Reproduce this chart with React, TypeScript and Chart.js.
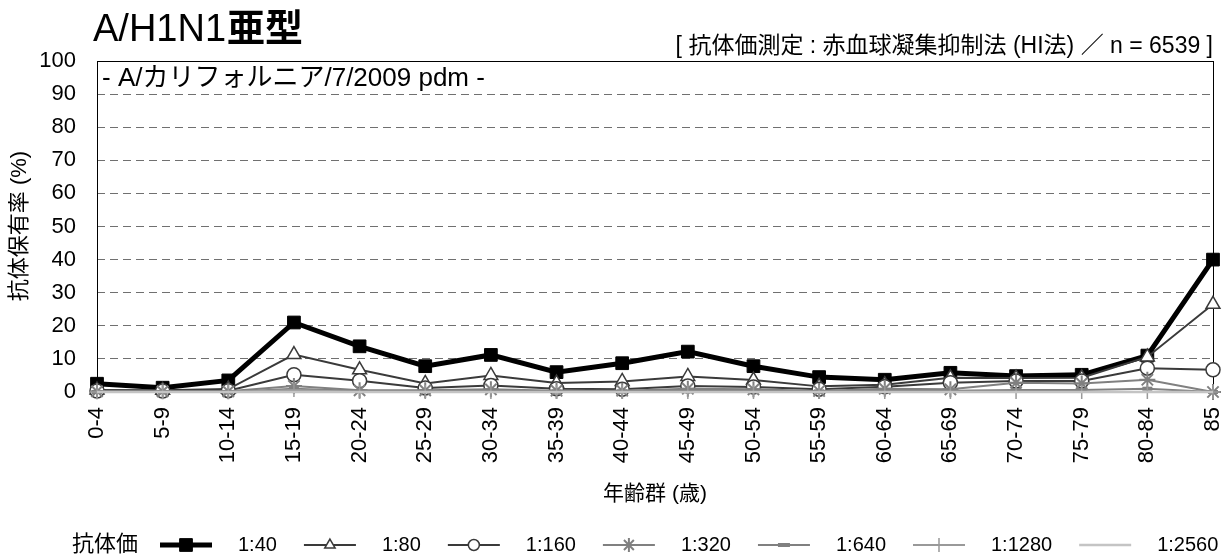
import React, { useEffect, useRef } from 'react';
import { Chart, registerables } from 'chart.js';
import { drawPoint } from 'chart.js/helpers';

Chart.register(...registerables);

const categories = ['0-4', '5-9', '10-14', '15-19', '20-24', '25-29', '30-34', '35-39', '40-44', '45-49', '50-54', '55-59', '60-64', '65-69', '70-74', '75-79', '80-84', '85'];
const seriesLabels = ['1:40', '1:80', '1:160', '1:320', '1:640', '1:1280', '1:2560'];
const titer40 = [2.5, 1.3, 3.5, 21.0, 13.8, 7.8, 11.2, 6.0, 8.7, 12.2, 7.8, 4.5, 3.7, 5.8, 4.8, 5.2, 11.0, 40.0];
const titer80 = [0.6, 0.5, 0.9, 11.3, 6.7, 2.6, 5.0, 2.7, 3.2, 4.7, 3.6, 1.7, 2.2, 4.3, 4.2, 4.3, 10.6, 26.5];
const titer160 = [0.3, 0.3, 0.4, 5.2, 3.4, 1.2, 2.0, 1.0, 0.8, 1.8, 1.5, 0.8, 1.6, 2.8, 3.3, 3.3, 7.2, 6.7];
const titer320 = [0.2, 0.2, 0.2, 1.8, 0.5, 0.5, 0.8, 0.4, 0.4, 1.0, 0.8, 0.3, 1.0, 0.8, 2.8, 2.6, 3.7, 0];
const titer640 = [0, 0, 0, 1.0, 0.3, 0.3, 0.4, 0.2, 0.2, 0.4, 0.4, 0.2, 0.5, 0.4, 0.6, 0.6, 1.0, 0];
const titer1280 = [0, 0, 0, 0.6, 0, 0, 0, 0, 0, 0, 0, 0, 0, 0, 0, 0, 0, 0];
const titer2560 = [0, 0, 0, 0, 0, 0, 0, 0, 0, 0, 0, 0, 0, 0, 0, 0, 0, 0];
const yTicks = [0, 10, 20, 30, 40, 50, 60, 70, 80, 90, 100];

const titleMain = 'A/H1N1';
const titleBold = '亜型';
const subtitle = '[ 抗体価測定 : 赤血球凝集抑制法 (HI法) ／ n = 6539 ]';
const annotation = '- A/カリフォルニア/7/2009 pdm -';
const yTitle = '抗体保有率 (%)';
const xTitle = '年齢群 (歳)';
const legendTitle = '抗体価';

const FONT = "'Liberation Sans', Arial, 'Noto Sans CJK JP', sans-serif";

const styles = [
  { color: '#000000', width: 5, point: 'rect', radius: 9, fill: '#000000', pbw: 1, lr: 9, lw: 5 },
  { color: '#3a3a3a', width: 2, point: 'triangle', radius: 8, fill: '#ffffff', pbw: 1.5, lr: 6, lw: 2 },
  { color: '#3a3a3a', width: 2, point: 'circle', radius: 7, fill: '#ffffff', pbw: 1.5, lr: 5.5, lw: 2 },
  { color: '#808080', width: 2, point: 'star', radius: 8, fill: '#808080', pbw: 2, lr: 7, lw: 2 },
  { color: '#808080', width: 2, point: 'line', radius: 5, fill: '#808080', pbw: 4, lr: 6, lw: 2 },
  { color: '#999999', width: 2, point: 'cross', radius: 7, fill: '#999999', pbw: 1.5, lr: 7, lw: 2 },
  { color: '#c4c4c4', width: 2.5, point: false, radius: 0, fill: '#c4c4c4', pbw: 0, lr: 0, lw: 2.5 },
];
const seriesData = [titer40, titer80, titer160, titer320, titer640, titer1280, titer2560];

const decorPlugin = {
  id: 'decor',
  beforeDatasetsDraw(chart: any) {
    const { ctx, chartArea: a } = chart;
    ctx.save();
    ctx.strokeStyle = '#000';
    ctx.lineWidth = 1;
    ctx.strokeRect(Math.round(a.left) + 0.5, Math.round(a.top) + 0.5, Math.round(a.right - a.left), Math.round(a.bottom - a.top));
    ctx.restore();
  },
  afterDraw(chart: any) {
    const { ctx, chartArea: a } = chart;
    ctx.save();
    ctx.fillStyle = '#000';
    // Title
    ctx.textBaseline = 'alphabetic';
    ctx.textAlign = 'left';
    ctx.font = `38px ${FONT}`;
    ctx.fillText(titleMain, 93, 41);
    const w = ctx.measureText(titleMain).width;
    ctx.font = `bold 38px ${FONT}`;
    ctx.fillText(titleBold, 93 + w + 1, 41);
    // Subtitle
    ctx.font = `23px ${FONT}`;
    ctx.textAlign = 'right';
    ctx.textBaseline = 'middle';
    ctx.fillText(subtitle, a.right, 47);
    // Annotation
    ctx.textAlign = 'left';
    ctx.font = `26px ${FONT}`;
    ctx.fillText(annotation, a.left + 5, 79);
    // Axis titles
    ctx.font = `21px ${FONT}`;
    ctx.textAlign = 'center';
    ctx.fillText(xTitle, (a.left + a.right) / 2, 494);
    ctx.save();
    ctx.translate(20, 226);
    ctx.rotate(-Math.PI / 2);
    ctx.font = `22px ${FONT}`;
    ctx.fillText(yTitle, 0, 0);
    ctx.restore();
    // Legend
    const ly = 545;
    ctx.textAlign = 'left';
    ctx.font = `22px ${FONT}`;
    ctx.fillText(legendTitle, 72, ly);
    ctx.font = `20px ${FONT}`;
    let x = 160;
    chart.data.datasets.forEach((ds: any, i: number) => {
      const s = styles[i];
      ctx.save();
      ctx.strokeStyle = s.color;
      ctx.lineWidth = s.lw;
      ctx.beginPath();
      ctx.moveTo(x, ly);
      ctx.lineTo(x + 52, ly);
      ctx.stroke();
      if (s.point) {
        ctx.fillStyle = s.fill;
        ctx.strokeStyle = s.color;
        ctx.lineWidth = s.pbw;
        drawPoint(ctx, { pointStyle: s.point, radius: s.lr, rotation: 0, borderWidth: s.pbw }, x + 26, ly);
      }
      ctx.restore();
      ctx.fillStyle = '#000';
      ctx.fillText(ds.label, x + 78, ly);
      x += 78 + ctx.measureText(ds.label).width + 27;
    });
    ctx.restore();
  },
};

export default function App() {
  const ref = useRef<HTMLCanvasElement>(null);
  useEffect(() => {
    if (!ref.current) return;
    const chart = new Chart(ref.current, {
      type: 'line',
      data: {
        labels: categories,
        datasets: seriesLabels.map((label, i) => {
          const s = styles[i];
          return {
            label,
            data: seriesData[i],
            order: seriesLabels.length - i,
            borderColor: s.color,
            borderWidth: s.width,
            backgroundColor: s.fill,
            pointStyle: s.point as any,
            pointRadius: s.radius,
            pointHoverRadius: s.radius,
            pointBackgroundColor: s.fill,
            pointBorderColor: s.color,
            pointBorderWidth: s.pbw,
            tension: 0,
            fill: false,
            clip: false as any,
          };
        }),
      },
      options: {
        responsive: false,
        animation: false,
        devicePixelRatio: 1,
        layout: { autoPadding: false, padding: { left: 0, right: 15, top: 61, bottom: 0 } },
        plugins: { legend: { display: false }, title: { display: false }, tooltip: { enabled: false } },
        events: [],
        scales: {
          x: {
            type: 'category',
            offset: false,
            grid: { display: false, drawTicks: false },
            border: { display: false },
            ticks: {
              autoSkip: false,
              maxRotation: 90,
              minRotation: 90,
              padding: 15,
              color: '#000',
              font: { size: 22, family: FONT },
            },
            afterFit(scale: any) {
              scale.height = 164;
              scale.paddingLeft = 0;
              scale.paddingRight = 0;
            },
          },
          y: {
            min: 0,
            max: 100,
            afterBuildTicks(scale: any) { scale.ticks = yTicks.map((v) => ({ value: v })); },
            grid: {
              drawTicks: false,
              color: (c: any) => (c.tick && (c.tick.value === 0 || c.tick.value === 100) ? 'rgba(0,0,0,0)' : '#707070'),
              lineWidth: 1,
            },
            border: { display: false, dash: [8, 5] },
            ticks: { padding: 21, color: '#000', font: { size: 22, family: FONT } },
            afterFit(scale: any) {
              scale.width = 97;
              scale.paddingTop = 0;
              scale.paddingBottom = 0;
            },
          },
        },
      },
      plugins: [decorPlugin],
    });
    return () => chart.destroy();
  }, []);
  return (
    <div style={{ position: 'absolute', left: 0, top: 0, width: 1228, height: 556, background: '#fff' }}>
      <canvas ref={ref} width={1228} height={556} style={{ width: 1228, height: 556, display: 'block' }} />
    </div>
  );
}
